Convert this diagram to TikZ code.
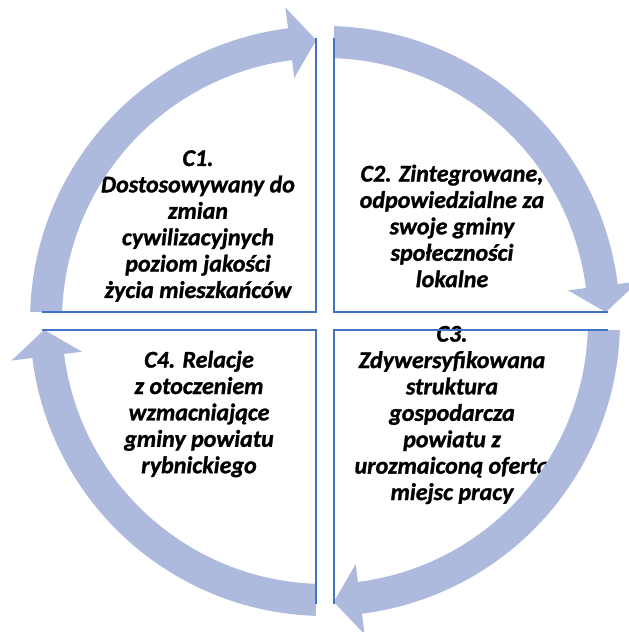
\documentclass[tikz,border=0pt]{standalone}
\usepackage{fontspec}
\setmainfont{Carlito}[BoldFont={Carlito Bold}, ItalicFont={Carlito Italic}, BoldItalicFont={Carlito Bold Italic}, BoldItalicFeatures={FakeBold=1.2}]
\definecolor{ringfill}{RGB}{174,186,221}
\definecolor{quadline}{RGB}{68,114,196}
\tikzset{
  ringarrow/.style={fill=ringfill, draw=none},
  quadrant/.style={draw=quadline, line width=2.6pt},
  goaltext/.style={align=center, font=\fontsize{24}{26.4}\selectfont\bfseries\itshape, text=black, inner sep=0pt}
}
\begin{document}
\begin{tikzpicture}[x=1pt,y=1pt]
\useasboundingbox (-325,-311) rectangle (304,321);
\clip (-325,-311) rectangle (304,321);
% texts
\node[goaltext] (c1) at (-127,95) {C1.\\Dostosowywany do\\zmian\\cywilizacyjnych\\poziom jakości\\życia mieszkańców};
\node[goaltext] (c2) at (127,95) {C2. Zintegrowane,\\odpowiedzialne za\\swoje gminy\\społeczności\\lokalne};
\node[goaltext] (c3) at (127,-94) {C3.\\Zdywersyfikowana\\struktura\\gospodarcza\\powiatu z\\urozmaiconą oferta\\miejsc pracy};
\node[goaltext] (c4) at (-126,-93) {C4. Relacje\\z otoczeniem\\wzmacniające\\gminy powiatu\\rybnickiego};
% circular arrows
\foreach \k in {0,1,2,3}{
  \begin{scope}[rotate=-90*\k]
    \path[ringarrow] (178.2:263) -- (178.2:295)
      arc[start angle=178.2, end angle=97.2, radius=295]
      -- (97.2:316) -- (91.8:281) -- (97.2:245) -- (97.2:263)
      arc[start angle=97.2, end angle=178.2, radius=263] -- cycle;
  \end{scope}
}
% quadrant frames
\draw[quadrant] (-9,283) -- (-9,9) -- (-283,9);
\draw[quadrant] (9,283) -- (9,9) -- (283,9);
\draw[quadrant] (283,-9) -- (9,-9) -- (9,-283);
\draw[quadrant] (-283,-9) -- (-9,-9) -- (-9,-283);
\end{tikzpicture}
\end{document}
